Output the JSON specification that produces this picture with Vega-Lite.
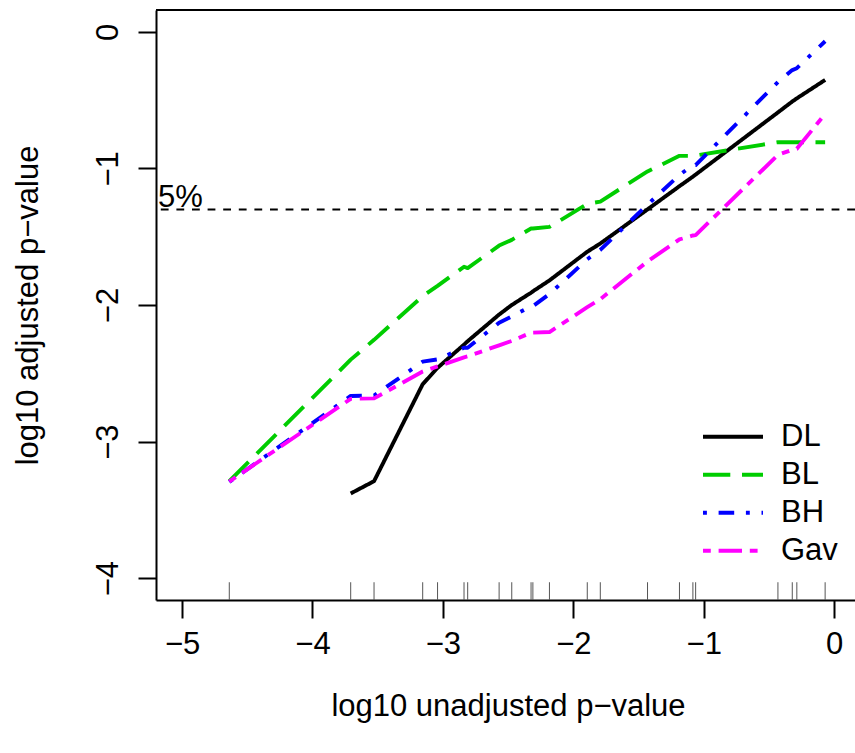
{
  "$schema": "https://vega.github.io/schema/vega-lite/v6.json",
  "width": 699,
  "height": 590,
  "autosize": {"type": "none"},
  "padding": {"left": 156, "top": 10, "right": 0, "bottom": 153},
  "background": "white",
  "config": {
    "view": {"stroke": null},
    "font": "Liberation Sans",
    "axis": {
      "grid": false,
      "domainColor": "black",
      "domainWidth": 2,
      "tickColor": "black",
      "tickWidth": 2,
      "tickSize": 18,
      "labelFontSize": 31,
      "labelColor": "black",
      "labelFont": "Liberation Sans",
      "titleFontSize": 31,
      "titleFontWeight": "normal",
      "titleColor": "black",
      "titleFont": "Liberation Sans"
    },
    "line": {"strokeCap": "butt", "strokeJoin": "round"}
  },
  "datasets": {
    "pvals": [
      {"p": -4.638}, {"p": -3.707}, {"p": -3.528}, {"p": -3.155}, {"p": -3.041},
      {"p": -2.838}, {"p": -2.810}, {"p": -2.569}, {"p": -2.472}, {"p": -2.324},
      {"p": -2.310}, {"p": -2.183}, {"p": -1.893}, {"p": -1.793}, {"p": -1.431},
      {"p": -1.186}, {"p": -1.083}, {"p": -1.062}, {"p": -0.431}, {"p": -0.321},
      {"p": -0.286}, {"p": -0.069}
    ],
    "curves": [
      {"method": "DL", "p": -3.707, "adj": -3.38},
      {"method": "DL", "p": -3.528, "adj": -3.29},
      {"method": "DL", "p": -3.155, "adj": -2.58},
      {"method": "DL", "p": -3.041, "adj": -2.46},
      {"method": "DL", "p": -2.838, "adj": -2.29},
      {"method": "DL", "p": -2.810, "adj": -2.265},
      {"method": "DL", "p": -2.569, "adj": -2.07},
      {"method": "DL", "p": -2.472, "adj": -2.0},
      {"method": "DL", "p": -2.324, "adj": -1.91},
      {"method": "DL", "p": -2.310, "adj": -1.9},
      {"method": "DL", "p": -2.183, "adj": -1.82},
      {"method": "DL", "p": -1.893, "adj": -1.61},
      {"method": "DL", "p": -1.793, "adj": -1.55},
      {"method": "DL", "p": -1.431, "adj": -1.3},
      {"method": "DL", "p": -1.186, "adj": -1.13},
      {"method": "DL", "p": -1.083, "adj": -1.06},
      {"method": "DL", "p": -1.062, "adj": -1.045},
      {"method": "DL", "p": -0.431, "adj": -0.59},
      {"method": "DL", "p": -0.321, "adj": -0.51},
      {"method": "DL", "p": -0.286, "adj": -0.487},
      {"method": "DL", "p": -0.069, "adj": -0.352},

      {"method": "BL", "p": -4.638, "adj": -3.29},
      {"method": "BL", "p": -3.707, "adj": -2.4},
      {"method": "BL", "p": -3.528, "adj": -2.255},
      {"method": "BL", "p": -3.155, "adj": -1.935},
      {"method": "BL", "p": -3.041, "adj": -1.86},
      {"method": "BL", "p": -2.838, "adj": -1.72},
      {"method": "BL", "p": -2.810, "adj": -1.73},
      {"method": "BL", "p": -2.569, "adj": -1.565},
      {"method": "BL", "p": -2.472, "adj": -1.523},
      {"method": "BL", "p": -2.324, "adj": -1.44},
      {"method": "BL", "p": -2.310, "adj": -1.44},
      {"method": "BL", "p": -2.183, "adj": -1.428},
      {"method": "BL", "p": -1.893, "adj": -1.26},
      {"method": "BL", "p": -1.793, "adj": -1.243},
      {"method": "BL", "p": -1.431, "adj": -1.022},
      {"method": "BL", "p": -1.186, "adj": -0.908},
      {"method": "BL", "p": -1.083, "adj": -0.908},
      {"method": "BL", "p": -1.062, "adj": -0.905},
      {"method": "BL", "p": -0.431, "adj": -0.808},
      {"method": "BL", "p": -0.321, "adj": -0.808},
      {"method": "BL", "p": -0.286, "adj": -0.808},
      {"method": "BL", "p": -0.069, "adj": -0.808},

      {"method": "BH", "p": -4.638, "adj": -3.296},
      {"method": "BH", "p": -3.707, "adj": -2.666},
      {"method": "BH", "p": -3.528, "adj": -2.663},
      {"method": "BH", "p": -3.155, "adj": -2.415},
      {"method": "BH", "p": -3.041, "adj": -2.398},
      {"method": "BH", "p": -2.838, "adj": -2.313},
      {"method": "BH", "p": -2.810, "adj": -2.313},
      {"method": "BH", "p": -2.569, "adj": -2.13},
      {"method": "BH", "p": -2.472, "adj": -2.084},
      {"method": "BH", "p": -2.324, "adj": -2.009},
      {"method": "BH", "p": -2.310, "adj": -2.009},
      {"method": "BH", "p": -2.183, "adj": -1.92},
      {"method": "BH", "p": -1.893, "adj": -1.665},
      {"method": "BH", "p": -1.793, "adj": -1.597},
      {"method": "BH", "p": -1.431, "adj": -1.265},
      {"method": "BH", "p": -1.186, "adj": -1.048},
      {"method": "BH", "p": -1.083, "adj": -0.975},
      {"method": "BH", "p": -1.062, "adj": -0.975},
      {"method": "BH", "p": -0.431, "adj": -0.367},
      {"method": "BH", "p": -0.321, "adj": -0.28},
      {"method": "BH", "p": -0.286, "adj": -0.266},
      {"method": "BH", "p": -0.069, "adj": -0.069},

      {"method": "Gav", "p": -4.638, "adj": -3.293},
      {"method": "Gav", "p": -3.707, "adj": -2.687},
      {"method": "Gav", "p": -3.528, "adj": -2.684},
      {"method": "Gav", "p": -3.155, "adj": -2.487},
      {"method": "Gav", "p": -3.041, "adj": -2.45},
      {"method": "Gav", "p": -2.838, "adj": -2.383},
      {"method": "Gav", "p": -2.810, "adj": -2.376},
      {"method": "Gav", "p": -2.569, "adj": -2.295},
      {"method": "Gav", "p": -2.472, "adj": -2.263},
      {"method": "Gav", "p": -2.324, "adj": -2.202},
      {"method": "Gav", "p": -2.310, "adj": -2.202},
      {"method": "Gav", "p": -2.183, "adj": -2.198},
      {"method": "Gav", "p": -1.893, "adj": -2.016},
      {"method": "Gav", "p": -1.793, "adj": -1.957},
      {"method": "Gav", "p": -1.431, "adj": -1.681},
      {"method": "Gav", "p": -1.186, "adj": -1.52},
      {"method": "Gav", "p": -1.083, "adj": -1.491},
      {"method": "Gav", "p": -1.062, "adj": -1.488},
      {"method": "Gav", "p": -0.431, "adj": -0.901},
      {"method": "Gav", "p": -0.321, "adj": -0.863},
      {"method": "Gav", "p": -0.286, "adj": -0.856},
      {"method": "Gav", "p": -0.069, "adj": -0.601}
    ]
  },
  "layer": [
    {
      "data": {"values": [{"top": 0.16}]},
      "mark": {"type": "rule", "color": "black", "strokeWidth": 2},
      "encoding": {
        "y": {"field": "top", "type": "quantitative", "scale": {"domain": [-4.16, 0.16], "nice": false, "zero": false}}
      }
    },
    {
      "data": {"values": [{"level": -1.30103, "label": "5%"}]},
      "mark": {"type": "rule", "color": "black", "strokeWidth": 2, "strokeDash": [7.8, 7.8]},
      "encoding": {
        "y": {"field": "level", "type": "quantitative", "scale": {"domain": [-4.16, 0.16], "nice": false, "zero": false}}
      }
    },
    {
      "data": {"values": [{"level": -1.30103, "label": "5%", "left": -5.2}]},
      "mark": {"type": "text", "align": "left", "baseline": "alphabetic", "dx": 2, "dy": -3, "fontSize": 31, "color": "black", "font": "Liberation Sans"},
      "encoding": {
        "x": {"field": "left", "type": "quantitative", "scale": {"domain": [-5.2, 0.16], "nice": false, "zero": false}},
        "y": {"field": "level", "type": "quantitative", "scale": {"domain": [-4.16, 0.16], "nice": false, "zero": false}},
        "text": {"field": "label"}
      }
    },
    {
      "data": {"name": "pvals"},
      "mark": {"type": "rule", "color": "#555555", "strokeWidth": 1},
      "encoding": {
        "x": {"field": "p", "type": "quantitative", "scale": {"domain": [-5.2, 0.16], "nice": false, "zero": false}},
        "y": {"datum": -4.16, "type": "quantitative", "scale": {"domain": [-4.16, 0.16], "nice": false, "zero": false}},
        "y2": {"datum": -4.03}
      }
    },
    {
      "data": {"name": "curves"},
      "mark": {"type": "line", "strokeWidth": 3.9, "strokeCap": "butt", "strokeJoin": "round"},
      "encoding": {
        "x": {
          "field": "p", "type": "quantitative",
          "scale": {"domain": [-5.2, 0.16], "nice": false, "zero": false},
          "axis": {"values": [-5, -4, -3, -2, -1, 0], "format": "d", "title": "log10 unadjusted p\u2212value", "labelBaseline": "middle", "labelPadding": 26, "titleBaseline": "alphabetic", "titleY": 115, "titleX": 352, "titleAnchor": "middle"}
        },
        "y": {
          "field": "adj", "type": "quantitative",
          "scale": {"domain": [-4.16, 0.16], "nice": false, "zero": false},
          "axis": {"values": [-4, -3, -2, -1, 0], "format": "d", "title": "log10 adjusted p\u2212value", "labelAngle": 270, "labelAlign": "center", "labelBaseline": "alphabetic", "labelPadding": 21, "titleAngle": 270, "titleBaseline": "alphabetic", "titleAlign": "center", "titleX": -119, "titleY": 295}
        },
        "color": {
          "field": "method", "type": "nominal",
          "scale": {"domain": ["DL", "BL", "BH", "Gav"], "range": ["#000000", "#00CD00", "#0000FF", "#FF00FF"]},
          "legend": {"orient": "none", "legendX": 545, "legendY": 408, "title": null, "symbolType": "stroke", "symbolSize": 3600, "symbolStrokeWidth": 3.9, "labelFontSize": 31, "labelFont": "Liberation Sans", "labelColor": "black", "labelOffset": 16, "rowPadding": 0, "clipHeight": 37.5, "padding": 0}
        },
        "strokeDash": {
          "field": "method", "type": "nominal",
          "scale": {"domain": ["DL", "BL", "BH", "Gav"], "range": [[1, 0], [27.3, 11.7], [3.9, 11.7, 15.6, 11.7], [7.8, 7.8, 23.4, 7.8]]},
          "legend": {"orient": "none", "legendX": 545, "legendY": 408, "title": null, "symbolType": "stroke", "symbolSize": 3600, "symbolStrokeWidth": 3.9, "labelFontSize": 31, "labelFont": "Liberation Sans", "labelColor": "black", "labelOffset": 16, "rowPadding": 0, "clipHeight": 37.5, "padding": 0}
        }
      }
    }
  ]
}
